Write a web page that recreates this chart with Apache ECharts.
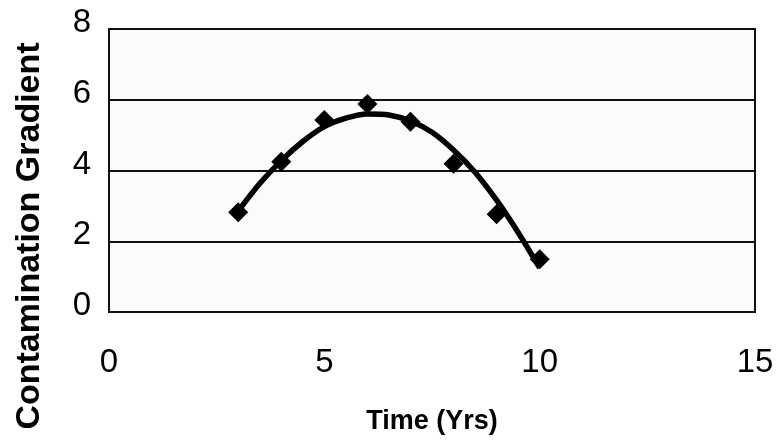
<!DOCTYPE html>
<html>
<head>
<meta charset="utf-8">
<script src="https://cdn.jsdelivr.net/npm/echarts@6/dist/echarts.min.js"></script>
<style>
  html, body { margin: 0; padding: 0; background: #fff; }
  #chart { width: 783px; height: 440px; }
</style>
</head>
<body>
<div id="chart"></div>
<script>
// Measured contamination gradient by year
const years = [3, 4, 5, 6, 7, 8, 9, 10];
const gradient = [2.82, 4.25, 5.43, 5.88, 5.38, 4.19, 2.76, 1.49];
// Polynomial trend line, sampled every half year
const trendYears = [3, 3.5, 4, 4.5, 5, 5.5, 6, 6.5, 7, 7.5, 8, 8.5, 9, 9.5, 10];
const trend = [2.85, 3.63, 4.28, 4.82, 5.24, 5.48, 5.6, 5.57, 5.4, 5.08, 4.58, 3.95, 3.16, 2.25, 1.25];

const xTitle = 'Time (Yrs)';
const yTitle = 'Contamination Gradient';

const FONT = '"Liberation Sans", Arial, Helvetica, sans-serif';

const chart = echarts.init(document.getElementById('chart'), null, { renderer: 'canvas' });

chart.setOption({
  backgroundColor: '#ffffff',
  animation: false,
  grid: {
    left: 109,
    right: 28,
    top: 29,
    bottom: 125,
    show: true,
    backgroundColor: '#fbfbfb',
    borderColor: '#111',
    borderWidth: 2
  },
  xAxis: {
    type: 'value',
    min: 0,
    max: 15,
    interval: 5,
    name: xTitle,
    nameLocation: 'middle',
    nameGap: 96,
    nameTextStyle: {
      fontFamily: FONT,
      fontSize: 27,
      fontWeight: 'bold',
      color: '#000'
    },
    axisLine: { show: false },
    axisTick: { show: false },
    splitLine: { show: false },
    axisLabel: {
      margin: 34,
      fontFamily: FONT,
      fontSize: 33,
      color: '#000'
    }
  },
  yAxis: {
    type: 'value',
    min: 0,
    max: 8,
    interval: 2,
    axisLine: { show: false },
    axisTick: { show: false },
    splitLine: { show: true, lineStyle: { color: '#111', width: 2 } },
    axisLabel: {
      margin: 18,
      fontFamily: FONT,
      fontSize: 33,
      color: '#000',
      verticalAlign: 'bottom',
      lineHeight: 12
    }
  },
  graphic: [{
    type: 'text',
    x: 30,
    y: 236,
    rotation: Math.PI / 2,
    style: {
      text: yTitle,
      font: 'bold 34px ' + FONT,
      fill: '#000',
      textAlign: 'center',
      textVerticalAlign: 'middle'
    }
  }],
  series: [
    {
      type: 'line',
      data: trendYears.map((x, i) => [x, trend[i]]),
      smooth: 0.3,
      showSymbol: false,
      lineStyle: { color: '#000', width: 5.5 },
      z: 2
    },
    {
      type: 'scatter',
      data: years.map((x, i) => [x, gradient[i]]),
      symbol: 'diamond',
      symbolSize: 20,
      itemStyle: { color: '#000', opacity: 1 },
      z: 3
    }
  ]
});
</script>
</body>
</html>
